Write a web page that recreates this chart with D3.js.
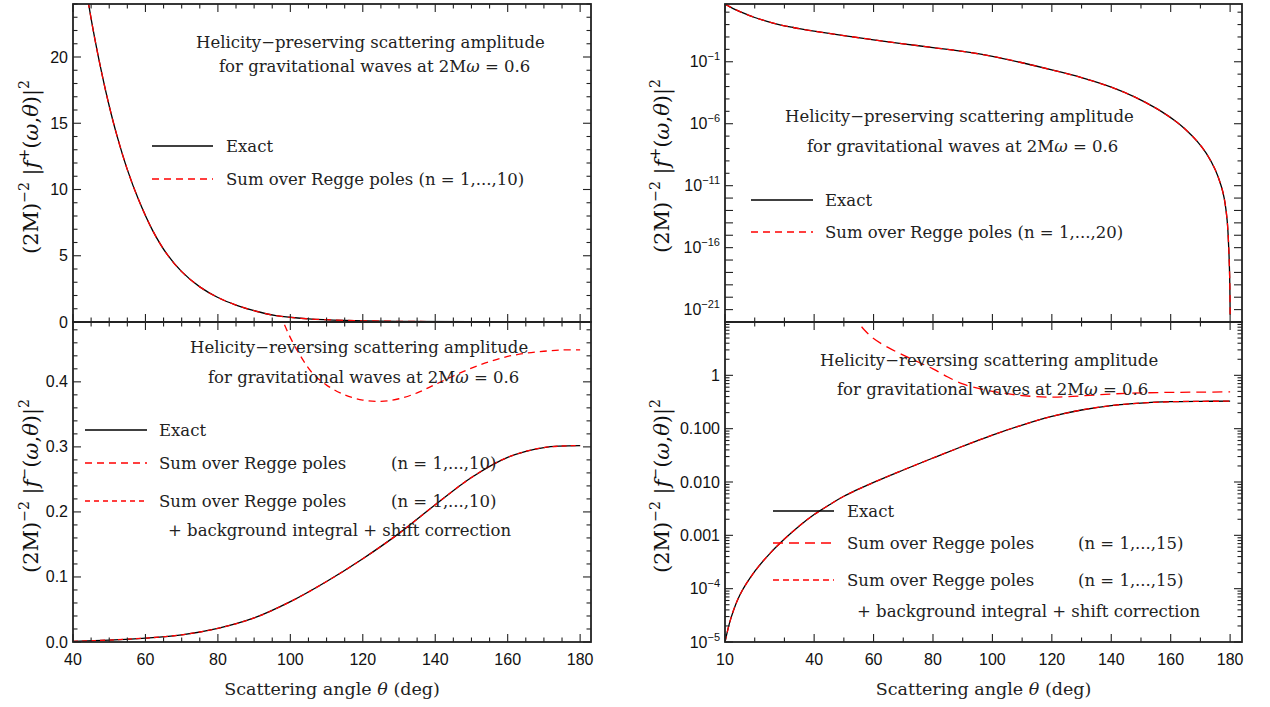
<!DOCTYPE html>
<html><head><meta charset="utf-8">
<script src="https://cdn.jsdelivr.net/npm/d3@7"></script>
<style>body{margin:0;background:#fff}svg{display:block}</style>
</head><body>
<svg id="c" width="1270" height="707"></svg>
<script>
// ---------- DATA ----------
// Panel A: helicity-preserving, linear, 2Mω = 0.6
const thetaA = [40, 42, 44, 46, 48, 50, 52, 55, 58, 62, 66, 70, 75, 80, 85, 90, 96, 105, 115, 130, 150, 180];
const exactA = [32.3, 28.1, 24.5, 21.4, 18.7, 16.3, 14.2, 11.5, 9.3, 6.9, 5.1, 3.8, 2.65, 1.85, 1.28, 0.85, 0.48, 0.24, 0.12, 0.05, 0.02, 0.01];
const reggeA10 = [32.3, 28.1, 24.5, 21.4, 18.7, 16.3, 14.2, 11.5, 9.3, 6.9, 5.1, 3.8, 2.65, 1.85, 1.28, 0.85, 0.48, 0.24, 0.12, 0.05, 0.02, 0.01];

// Panel B: helicity-reversing, linear
const thetaB = [40, 50, 60, 70, 80, 90, 100, 110, 120, 130, 140, 150, 160, 170, 180];
const exactB = [0.001, 0.003, 0.006, 0.011, 0.021, 0.037, 0.062, 0.093, 0.128, 0.167, 0.211, 0.253, 0.284, 0.299, 0.302];
const bgShiftB = [0.001, 0.003, 0.006, 0.011, 0.021, 0.037, 0.062, 0.093, 0.128, 0.167, 0.211, 0.253, 0.284, 0.299, 0.302];
const thetaBr = [95, 97.5, 100, 103, 106, 110, 115, 120, 125, 130, 135, 140, 145, 150, 155, 160, 165, 170, 175, 180];
const reggeB10 = [0.54, 0.50, 0.468, 0.438, 0.414, 0.395, 0.38, 0.372, 0.370, 0.374, 0.383, 0.396, 0.409, 0.421, 0.431, 0.439, 0.444, 0.447, 0.449, 0.449];

// Panel C: helicity-preserving, log scale
const thetaC = [10, 11, 12, 13.5, 15, 17.5, 20, 22.5, 25, 27.5, 30, 32.5, 35, 40, 45, 50, 60, 70, 80, 90, 100, 110, 120, 130, 140, 148, 155, 159, 162, 165, 169, 172, 175, 177, 178, 179, 179.6, 179.9, 180];
const exactC = [4.47e3, 3.3e3, 2.45e3, 1.62e3, 1.11e3, 631, 372, 237, 157, 110, 80, 61, 47, 29.5, 19.3, 12.9, 5.9, 2.8, 1.4, 0.68, 0.275, 0.083, 0.022, 5.2e-3, 8.9e-4, 1.4e-4, 1.8e-5, 4.5e-6, 1.38e-6, 3.47e-7, 3.6e-8, 4.0e-9, 1.9e-10, 9.5e-12, 1.0e-12, 1.6e-14, 4.0e-17, 1e-19, 4e-22];
const reggeC20 = [4.47e3, 3.3e3, 2.45e3, 1.62e3, 1.11e3, 631, 372, 237, 157, 110, 80, 61, 47, 29.5, 19.3, 12.9, 5.9, 2.8, 1.4, 0.68, 0.275, 0.083, 0.022, 5.2e-3, 8.9e-4, 1.4e-4, 1.8e-5, 4.5e-6, 1.38e-6, 3.47e-7, 3.6e-8, 4.0e-9, 1.9e-10, 9.5e-12, 1.0e-12, 1.6e-14, 4.0e-17, 1e-19, 4e-22];

// Panel D: helicity-reversing, log scale
const thetaD = [10, 12, 15, 20, 25, 30, 35, 40, 45, 50, 60, 70, 80, 90, 100, 110, 120, 130, 140, 150, 160, 170, 180];
const exactD = [1.0e-5, 2.8e-5, 7.6e-5, 2.1e-4, 4.5e-4, 8.5e-4, 1.5e-3, 2.45e-3, 3.7e-3, 5.4e-3, 9.8e-3, 0.0168, 0.0282, 0.0468, 0.0759, 0.117, 0.170, 0.224, 0.271, 0.302, 0.320, 0.326, 0.327];
const bgShiftD = [1.0e-5, 2.8e-5, 7.6e-5, 2.1e-4, 4.5e-4, 8.5e-4, 1.5e-3, 2.45e-3, 3.7e-3, 5.4e-3, 9.8e-3, 0.0168, 0.0282, 0.0468, 0.0759, 0.117, 0.170, 0.224, 0.271, 0.302, 0.320, 0.326, 0.327];
const thetaDr = [53, 55, 57, 60, 65, 70, 75, 80, 85, 90, 95, 100, 105, 110, 120, 130, 140, 150, 160, 170, 180];
const reggeD15 = [14.5, 9.6, 7.0, 4.9, 3.3, 2.4, 1.78, 1.32, 0.93, 0.69, 0.575, 0.50, 0.452, 0.417, 0.389, 0.412, 0.447, 0.468, 0.479, 0.484, 0.49];

// Tick labels
const xTicksLeft = [40, 60, 80, 100, 120, 140, 160, 180];
const xTicksRight = [10, 40, 60, 80, 100, 120, 140, 160, 180];
const yTicksA = [0, 5, 10, 15, 20];
const yTicksB = [0.0, 0.1, 0.2, 0.3, 0.4];
const yTicksCExp = [-1, -6, -11, -16, -21];
const yTicksD = [1, 0.1, 0.01, 0.001, 1e-4, 1e-5];
const yLabelsD = [["1"], ["0.100"], ["0.010"], ["0.001"], ["10", "−4"], ["10", "−5"]];

// ---------- DRAWING ----------
const svg = d3.select("#c");
const SERIF = "'DejaVu Serif', serif";
const SANS = "'Liberation Sans', Arial, sans-serif";
const FRAME = "#222";
let clipId = 0;

function label(g, x, y, parts, anchor) {
  const t = g.append("text").attr("x", x).attr("y", y)
    .attr("text-anchor", anchor).attr("font-family", SANS).attr("font-size", 16).attr("fill", "#111");
  t.append("tspan").text(parts[0]);
  if (parts[1]) t.append("tspan").attr("font-size", 11).attr("dy", -7).text(parts[1]);
}

function panel(o) {
  const g = svg.append("g");
  const x = d3.scaleLinear().domain(o.xDomain).range([o.left, o.right]);
  const y = (o.log ? d3.scaleLog() : d3.scaleLinear()).domain(o.yDomain).range([o.bottom, o.top]);
  const id = "clip" + (clipId++);
  svg.append("defs").append("clipPath").attr("id", id)
    .append("rect").attr("x", o.left).attr("y", o.top).attr("width", o.right - o.left).attr("height", o.bottom - o.top);

  // series
  const line = d3.line().x(d => x(d[0])).y(d => y(d[1])).curve(d3.curveCatmullRom.alpha(0.5));
  const cg = g.append("g").attr("clip-path", `url(#${id})`);
  o.series.forEach(s => {
    cg.append("path").datum(s.theta.map((t, i) => [t, s.values[i]]))
      .attr("d", line).attr("fill", "none").attr("stroke", s.color)
      .attr("stroke-width", 1.3).attr("stroke-dasharray", s.dash || null);
  });

  // ticks
  const tk = g.append("g").attr("stroke", FRAME).attr("stroke-width", 1.1);
  o.xMinor.forEach(v => {
    const major = o.xMajor.includes(v), L = major ? 8 : 4.5, px = x(v);
    tk.append("line").attr("x1", px).attr("x2", px).attr("y1", o.bottom).attr("y2", o.bottom - L);
    tk.append("line").attr("x1", px).attr("x2", px).attr("y1", o.top).attr("y2", o.top + L);
  });
  o.yMinor.forEach(v => {
    const major = o.yMajor.some(m => Math.abs(m - v) <= Math.abs(v) * 1e-9 + 1e-12), L = major ? 8 : 4.5, py = y(v);
    if (py < o.top - 0.5 || py > o.bottom + 0.5) return;
    tk.append("line").attr("y1", py).attr("y2", py).attr("x1", o.left).attr("x2", o.left + L);
    tk.append("line").attr("y1", py).attr("y2", py).attr("x1", o.right).attr("x2", o.right - L);
  });

  // frame
  g.append("rect").attr("x", o.left).attr("y", o.top).attr("width", o.right - o.left).attr("height", o.bottom - o.top)
    .attr("fill", "none").attr("stroke", FRAME).attr("stroke-width", 1.8);

  // tick labels
  if (o.xLabels) o.xMajor.forEach(v => label(g, x(v), o.bottom + 23, [String(v)], "middle"));
  o.yMajor.forEach((v, i) => label(g, o.left - 5, y(v) + 5.5, o.yFmt(v, i), "end"));

  // y title
  const yt = g.append("text").attr("transform", `translate(${o.ytX},${o.ytY}) rotate(-90)`)
    .attr("text-anchor", "middle").attr("font-family", SERIF).attr("font-size", 21).attr("fill", "#111");
  yt.append("tspan").text("(2M)");
  yt.append("tspan").attr("font-size", 14).attr("dy", -9).text("−2");
  yt.append("tspan").attr("dy", 9).text(" |");
  yt.append("tspan").attr("font-style", "italic").text("f");
  yt.append("tspan").attr("font-size", 14).attr("dy", -9).text(o.sign);
  yt.append("tspan").attr("dy", 9).text("(");
  yt.append("tspan").attr("font-style", "italic").text("ω");
  yt.append("tspan").text(",");
  yt.append("tspan").attr("font-style", "italic").text("θ");
  yt.append("tspan").text(")|");
  yt.append("tspan").attr("font-size", 14).attr("dy", -9).text("2");

  // annotation text
  const txt = (tx, ty, build) => {
    const t = g.append("text").attr("x", tx).attr("y", ty).attr("font-family", SERIF)
      .attr("font-size", 16.5).attr("fill", "#222");
    build(t);
  };
  txt(o.t1[0], o.t1[1], t => t.text(o.t1[2]));
  txt(o.t2[0], o.t2[1], t => {
    t.append("tspan").text("for gravitational waves at 2M");
    t.append("tspan").attr("font-style", "italic").text("ω");
    t.append("tspan").text(" = 0.6");
  });
  // legend
  o.legend.forEach(l => {
    g.append("line").attr("x1", l.x1).attr("x2", l.x2).attr("y1", l.y).attr("y2", l.y)
      .attr("stroke", l.color).attr("stroke-width", 1.3).attr("stroke-dasharray", l.dash || null);
    l.texts.forEach(tt => txt(tt[0], tt[1], t => t.text(tt[2])));
  });
  return {x, y};
}

const range = (a, b, s) => d3.range(a, b + s / 2, s);
const logMinor = (lo, hi) => { const r = []; for (let e = lo; e <= hi; e++) for (let m = 1; m <= 9; m++) r.push(m * Math.pow(10, e)); return r; };

// Panel A
panel({
  left: 73, right: 591, top: 4, bottom: 322, xDomain: [40, 183], yDomain: [0, 24], log: false,
  xMajor: xTicksLeft, xMinor: range(40, 180, 5), xLabels: false,
  yMajor: yTicksA, yMinor: range(0, 24, 1), yFmt: v => [String(v)],
  series: [
    {theta: thetaA, values: exactA, color: "#000"},
    {theta: thetaA, values: reggeA10, color: "#ff0000", dash: "7,5"}
  ],
  sign: "+", ytX: 38, ytY: 167,
  t1: [196, 48, "Helicity−preserving scattering amplitude"], t2: [219, 72],
  legend: [
    {x1: 152, x2: 213, y: 146, color: "#000", texts: [[226, 151.5, "Exact"]]},
    {x1: 152, x2: 213, y: 179, color: "#ff0000", dash: "7,5", texts: [[226, 184.5, "Sum over Regge poles (n = 1,...,10)"]]}
  ]
});

// Panel B
panel({
  left: 73, right: 591, top: 322, bottom: 642, xDomain: [40, 183], yDomain: [0, 0.492], log: false,
  xMajor: xTicksLeft, xMinor: range(40, 180, 5), xLabels: true,
  yMajor: yTicksB, yMinor: range(0, 0.48, 0.02), yFmt: v => [v.toFixed(1)],
  series: [
    {theta: thetaB, values: exactB, color: "#000"},
    {theta: thetaBr, values: reggeB10, color: "#ff0000", dash: "7,5"},
    {theta: thetaB, values: bgShiftB, color: "#ff0000", dash: "5,4"}
  ],
  sign: "−", ytX: 38, ytY: 486,
  t1: [190, 353, "Helicity−reversing scattering amplitude"], t2: [208, 383],
  legend: [
    {x1: 85, x2: 147, y: 430, color: "#000", texts: [[159, 435.5, "Exact"]]},
    {x1: 85, x2: 147, y: 463, color: "#ff0000", dash: "7,5", texts: [[159, 468.5, "Sum over Regge poles"], [391, 468.5, "(n = 1,...,10)"]]},
    {x1: 85, x2: 147, y: 501, color: "#ff0000", dash: "5,4", texts: [[159, 506.5, "Sum over Regge poles"], [391, 506.5, "(n = 1,...,10)"], [168, 536, "+ background integral + shift correction"]]}
  ]
});

// Panel C
panel({
  left: 725, right: 1242, top: 4, bottom: 322, xDomain: [10, 184], yDomain: [1e-22, Math.pow(10, 3.66)], log: true,
  xMajor: xTicksRight, xMinor: range(10, 180, 10), xLabels: false,
  yMajor: yTicksCExp.map(e => Math.pow(10, e)), yMinor: d3.range(-22, 4).map(e => Math.pow(10, e)),
  yFmt: (v, i) => ["10", "−" + String(-yTicksCExp[i])],
  series: [
    {theta: thetaC, values: exactC, color: "#000"},
    {theta: thetaC, values: reggeC20, color: "#ff0000", dash: "7,5"}
  ],
  sign: "+", ytX: 669, ytY: 166,
  t1: [785, 122, "Helicity−preserving scattering amplitude"], t2: [807, 152],
  legend: [
    {x1: 751, x2: 813, y: 200, color: "#000", texts: [[825, 205.5, "Exact"]]},
    {x1: 751, x2: 813, y: 232, color: "#ff0000", dash: "7,5", texts: [[825, 237.5, "Sum over Regge poles (n = 1,...,20)"]]}
  ]
});

// Panel D
panel({
  left: 725, right: 1242, top: 322, bottom: 642, xDomain: [10, 184], yDomain: [1e-5, 10], log: true,
  xMajor: xTicksRight, xMinor: range(10, 180, 10), xLabels: true,
  yMajor: yTicksD, yMinor: logMinor(-5, 0),
  yFmt: (v, i) => yLabelsD[i],
  series: [
    {theta: thetaD, values: exactD, color: "#000"},
    {theta: thetaDr, values: reggeD15, color: "#ff0000", dash: "10,6"},
    {theta: thetaD, values: bgShiftD, color: "#ff0000", dash: "6,4"}
  ],
  sign: "−", ytX: 669, ytY: 486,
  t1: [820, 366, "Helicity−reversing scattering amplitude"], t2: [837, 395],
  legend: [
    {x1: 773, x2: 834, y: 511, color: "#000", texts: [[847, 516.5, "Exact"]]},
    {x1: 773, x2: 834, y: 543, color: "#ff0000", dash: "10,6", texts: [[847, 548.5, "Sum over Regge poles"], [1078, 548.5, "(n = 1,...,15)"]]},
    {x1: 773, x2: 834, y: 580, color: "#ff0000", dash: "6,4", texts: [[847, 586, "Sum over Regge poles"], [1078, 586, "(n = 1,...,15)"], [857, 617, "+ background integral + shift correction"]]}
  ]
});

// x-axis titles
[[332, 695], [983.5, 695]].forEach(p => {
  const t = svg.append("text").attr("x", p[0]).attr("y", p[1]).attr("text-anchor", "middle")
    .attr("font-family", SERIF).attr("font-size", 17.5).attr("fill", "#222");
  t.append("tspan").text("Scattering angle ");
  t.append("tspan").attr("font-style", "italic").text("θ");
  t.append("tspan").text(" (deg)");
});
</script>
</body></html>
